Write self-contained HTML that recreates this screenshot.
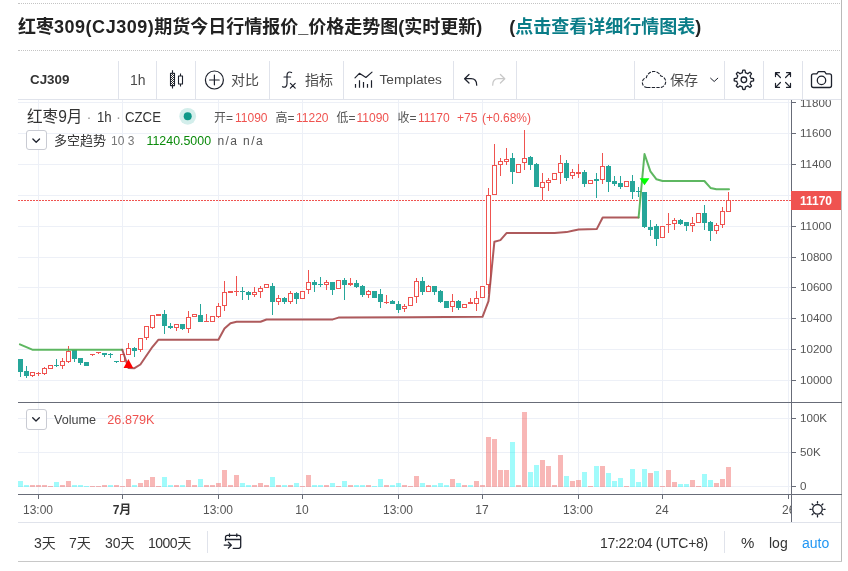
<!DOCTYPE html>
<html lang="zh-CN">
<head>
<meta charset="utf-8">
<title>红枣309(CJ309)期货今日行情报价</title>
<style>
html,body{margin:0;padding:0;background:#fff;}
body{width:848px;height:571px;position:relative;overflow:hidden;font-family:"Liberation Sans","Noto Sans CJK SC",sans-serif;color:#4a4a4a;}
.abs{position:absolute;white-space:nowrap;}
.dot{position:absolute;left:18px;width:824px;height:0;border-top:1px dotted #c4c4c4;}
.title{position:absolute;left:18px;top:13px;font-size:18px;font-weight:bold;color:#222;line-height:28px;white-space:nowrap;letter-spacing:0;}
.title .la{letter-spacing:0.52px;}
.title a{color:#0a7d88;text-decoration:none;}
.title .sp{display:inline-block;width:27px;}
.rline{position:absolute;left:841px;top:0;width:1px;height:562px;background:#b9b9b9;}
.bline{position:absolute;left:18px;top:561px;width:824px;height:1px;background:#c8c8c8;}
.tb{position:absolute;left:18px;top:61px;width:823px;height:38px;border-bottom:1px solid #e0e3eb;}
.sep{position:absolute;top:61px;width:1px;height:38px;background:#e0e3eb;}
.t14{font-size:14px;line-height:20px;top:70px;color:#4a4a4a;}
.cv{position:absolute;left:0;top:0;}
.ico{position:absolute;left:0;top:0;}
.lg{font-size:12px;line-height:16px;color:#555;}
.l1{top:110px;}
.l2{top:133px;}
.sym{top:106px;font-size:15px;line-height:22px;color:#333;}
.sx{transform:scaleX(.88);transform-origin:0 50%;}
.red{color:#ef5350;}
.ax{position:absolute;left:8px;font-size:11.6px;line-height:14px;color:#555;white-space:nowrap;}
.tm{position:absolute;top:503px;font-size:12px;line-height:14px;color:#555;white-space:nowrap;transform:translateX(-50%);}
.btn{position:absolute;left:26px;width:19px;height:19px;border:1px solid #c9cbd3;border-radius:3px;background:#fff;box-sizing:content-box;}
.bt{position:absolute;top:533px;font-size:14px;line-height:20px;color:#333;white-space:nowrap;}
</style>
</head>
<body>
<div class="dot" style="top:3px"></div>
<div class="dot" style="top:50px"></div>
<div class="title">红枣<span class="la">309(CJ309)</span>期货今日行情报价_价格走势图(实时更新)<span class="sp"></span>(<a>点击查看详细行情图表</a>)</div>
<div class="rline"></div>
<div class="bline"></div>
<div class="tb"></div>
<div class="sep" style="left:118px"></div><div class="sep" style="left:156px"></div><div class="sep" style="left:195px"></div><div class="sep" style="left:269px"></div><div class="sep" style="left:343px"></div><div class="sep" style="left:453px"></div><div class="sep" style="left:516px"></div><div class="sep" style="left:634px"></div><div class="sep" style="left:724px"></div><div class="sep" style="left:763px"></div><div class="sep" style="left:802px"></div>
<svg class="cv" width="848" height="571" viewBox="0 0 848 571">
<g shape-rendering="crispEdges" stroke="#edf0f7" stroke-width="1">
<line x1="38.5" y1="100" x2="38.5" y2="494"/>
<line x1="122.5" y1="100" x2="122.5" y2="494"/>
<line x1="218.5" y1="100" x2="218.5" y2="494"/>
<line x1="302.5" y1="100" x2="302.5" y2="494"/>
<line x1="398.5" y1="100" x2="398.5" y2="494"/>
<line x1="482.5" y1="100" x2="482.5" y2="494"/>
<line x1="578.5" y1="100" x2="578.5" y2="494"/>
<line x1="662.5" y1="100" x2="662.5" y2="494"/>
<line x1="788.5" y1="100" x2="788.5" y2="494"/>
<line x1="18" y1="102.5" x2="791" y2="102.5"/>
<line x1="18" y1="133.5" x2="791" y2="133.5"/>
<line x1="18" y1="164.5" x2="791" y2="164.5"/>
<line x1="18" y1="195.5" x2="791" y2="195.5"/>
<line x1="18" y1="226.5" x2="791" y2="226.5"/>
<line x1="18" y1="257.5" x2="791" y2="257.5"/>
<line x1="18" y1="287.5" x2="791" y2="287.5"/>
<line x1="18" y1="318.5" x2="791" y2="318.5"/>
<line x1="18" y1="349.5" x2="791" y2="349.5"/>
<line x1="18" y1="380.5" x2="791" y2="380.5"/>
<line x1="18" y1="418.5" x2="791" y2="418.5"/>
<line x1="18" y1="452.5" x2="791" y2="452.5"/>
<line x1="18" y1="486.5" x2="791" y2="486.5"/>
</g>
<g shape-rendering="crispEdges">
<rect x="18" y="481" width="5" height="6" fill="rgba(0,245,245,0.37)"/>
<rect x="24" y="485" width="5" height="2" fill="rgba(0,245,245,0.37)"/>
<rect x="30" y="485" width="5" height="2" fill="rgba(239,83,80,0.42)"/>
<rect x="36" y="485" width="5" height="2" fill="rgba(239,83,80,0.42)"/>
<rect x="42" y="485" width="5" height="2" fill="rgba(239,83,80,0.42)"/>
<rect x="48" y="486" width="5" height="1" fill="rgba(239,83,80,0.42)"/>
<rect x="54" y="482" width="5" height="5" fill="rgba(0,245,245,0.37)"/>
<rect x="60" y="485" width="5" height="2" fill="rgba(239,83,80,0.42)"/>
<rect x="66" y="481" width="5" height="6" fill="rgba(239,83,80,0.42)"/>
<rect x="72" y="485" width="5" height="2" fill="rgba(0,245,245,0.37)"/>
<rect x="78" y="485" width="5" height="2" fill="rgba(0,245,245,0.37)"/>
<rect x="84" y="486" width="5" height="1" fill="rgba(0,245,245,0.37)"/>
<rect x="90" y="486" width="5" height="1" fill="rgba(239,83,80,0.42)"/>
<rect x="96" y="486" width="5" height="1" fill="rgba(239,83,80,0.42)"/>
<rect x="102" y="485" width="5" height="2" fill="rgba(239,83,80,0.42)"/>
<rect x="108" y="485" width="5" height="2" fill="rgba(0,245,245,0.37)"/>
<rect x="114" y="485" width="5" height="2" fill="rgba(239,83,80,0.42)"/>
<rect x="120" y="486" width="5" height="1" fill="rgba(239,83,80,0.42)"/>
<rect x="126" y="479" width="5" height="8" fill="rgba(239,83,80,0.42)"/>
<rect x="132" y="485" width="5" height="2" fill="rgba(0,245,245,0.37)"/>
<rect x="138" y="483" width="5" height="4" fill="rgba(239,83,80,0.42)"/>
<rect x="144" y="480" width="5" height="7" fill="rgba(239,83,80,0.42)"/>
<rect x="150" y="477" width="5" height="10" fill="rgba(239,83,80,0.42)"/>
<rect x="156" y="486" width="5" height="1" fill="rgba(239,83,80,0.42)"/>
<rect x="162" y="477" width="5" height="10" fill="rgba(0,245,245,0.37)"/>
<rect x="168" y="485" width="5" height="2" fill="rgba(0,245,245,0.37)"/>
<rect x="174" y="485" width="5" height="2" fill="rgba(239,83,80,0.42)"/>
<rect x="180" y="485" width="5" height="2" fill="rgba(0,245,245,0.37)"/>
<rect x="186" y="480" width="5" height="7" fill="rgba(239,83,80,0.42)"/>
<rect x="192" y="485" width="5" height="2" fill="rgba(239,83,80,0.42)"/>
<rect x="198" y="479" width="5" height="8" fill="rgba(0,245,245,0.37)"/>
<rect x="204" y="485" width="5" height="2" fill="rgba(239,83,80,0.42)"/>
<rect x="210" y="485" width="5" height="2" fill="rgba(239,83,80,0.42)"/>
<rect x="216" y="483" width="5" height="4" fill="rgba(239,83,80,0.42)"/>
<rect x="222" y="470" width="5" height="17" fill="rgba(239,83,80,0.42)"/>
<rect x="228" y="485" width="5" height="2" fill="rgba(239,83,80,0.42)"/>
<rect x="234" y="475" width="5" height="12" fill="rgba(239,83,80,0.42)"/>
<rect x="240" y="483" width="5" height="4" fill="rgba(0,245,245,0.37)"/>
<rect x="246" y="485" width="5" height="2" fill="rgba(0,245,245,0.37)"/>
<rect x="252" y="485" width="5" height="2" fill="rgba(239,83,80,0.42)"/>
<rect x="258" y="483" width="5" height="4" fill="rgba(239,83,80,0.42)"/>
<rect x="264" y="485" width="5" height="2" fill="rgba(239,83,80,0.42)"/>
<rect x="270" y="477" width="5" height="10" fill="rgba(0,245,245,0.37)"/>
<rect x="276" y="485" width="5" height="2" fill="rgba(239,83,80,0.42)"/>
<rect x="282" y="485" width="5" height="2" fill="rgba(0,245,245,0.37)"/>
<rect x="288" y="485" width="5" height="2" fill="rgba(239,83,80,0.42)"/>
<rect x="294" y="483" width="5" height="4" fill="rgba(0,245,245,0.37)"/>
<rect x="300" y="486" width="5" height="1" fill="rgba(239,83,80,0.42)"/>
<rect x="306" y="475" width="5" height="12" fill="rgba(239,83,80,0.42)"/>
<rect x="312" y="485" width="5" height="2" fill="rgba(0,245,245,0.37)"/>
<rect x="318" y="485" width="5" height="2" fill="rgba(0,245,245,0.37)"/>
<rect x="324" y="485" width="5" height="2" fill="rgba(239,83,80,0.42)"/>
<rect x="330" y="483" width="5" height="4" fill="rgba(0,245,245,0.37)"/>
<rect x="336" y="486" width="5" height="1" fill="rgba(239,83,80,0.42)"/>
<rect x="342" y="481" width="5" height="6" fill="rgba(0,245,245,0.37)"/>
<rect x="348" y="485" width="5" height="2" fill="rgba(239,83,80,0.42)"/>
<rect x="354" y="485" width="5" height="2" fill="rgba(0,245,245,0.37)"/>
<rect x="360" y="485" width="5" height="2" fill="rgba(0,245,245,0.37)"/>
<rect x="366" y="485" width="5" height="2" fill="rgba(239,83,80,0.42)"/>
<rect x="372" y="486" width="5" height="1" fill="rgba(0,245,245,0.37)"/>
<rect x="378" y="479" width="5" height="8" fill="rgba(0,245,245,0.37)"/>
<rect x="384" y="485" width="5" height="2" fill="rgba(239,83,80,0.42)"/>
<rect x="390" y="485" width="5" height="2" fill="rgba(0,245,245,0.37)"/>
<rect x="396" y="483" width="5" height="4" fill="rgba(0,245,245,0.37)"/>
<rect x="402" y="485" width="5" height="2" fill="rgba(239,83,80,0.42)"/>
<rect x="408" y="486" width="5" height="1" fill="rgba(239,83,80,0.42)"/>
<rect x="414" y="476" width="5" height="11" fill="rgba(239,83,80,0.42)"/>
<rect x="420" y="483" width="5" height="4" fill="rgba(0,245,245,0.37)"/>
<rect x="426" y="485" width="5" height="2" fill="rgba(239,83,80,0.42)"/>
<rect x="432" y="485" width="5" height="2" fill="rgba(0,245,245,0.37)"/>
<rect x="438" y="483" width="5" height="4" fill="rgba(0,245,245,0.37)"/>
<rect x="444" y="485" width="5" height="2" fill="rgba(0,245,245,0.37)"/>
<rect x="450" y="479" width="5" height="8" fill="rgba(239,83,80,0.42)"/>
<rect x="456" y="483" width="5" height="4" fill="rgba(0,245,245,0.37)"/>
<rect x="462" y="485" width="5" height="2" fill="rgba(239,83,80,0.42)"/>
<rect x="468" y="485" width="5" height="2" fill="rgba(0,245,245,0.37)"/>
<rect x="474" y="481" width="5" height="6" fill="rgba(239,83,80,0.42)"/>
<rect x="480" y="485" width="5" height="2" fill="rgba(239,83,80,0.42)"/>
<rect x="486" y="437" width="5" height="50" fill="rgba(239,83,80,0.42)"/>
<rect x="492" y="439" width="5" height="48" fill="rgba(239,83,80,0.42)"/>
<rect x="498" y="470" width="5" height="17" fill="rgba(239,83,80,0.42)"/>
<rect x="504" y="470" width="5" height="17" fill="rgba(239,83,80,0.42)"/>
<rect x="510" y="442" width="5" height="45" fill="rgba(0,245,245,0.37)"/>
<rect x="516" y="485" width="5" height="2" fill="rgba(239,83,80,0.42)"/>
<rect x="522" y="412" width="5" height="75" fill="rgba(239,83,80,0.42)"/>
<rect x="528" y="472" width="5" height="15" fill="rgba(0,245,245,0.37)"/>
<rect x="534" y="465" width="5" height="22" fill="rgba(0,245,245,0.37)"/>
<rect x="540" y="460" width="5" height="27" fill="rgba(239,83,80,0.42)"/>
<rect x="546" y="466" width="5" height="21" fill="rgba(239,83,80,0.42)"/>
<rect x="552" y="485" width="5" height="2" fill="rgba(239,83,80,0.42)"/>
<rect x="558" y="455" width="5" height="32" fill="rgba(239,83,80,0.42)"/>
<rect x="564" y="476" width="5" height="11" fill="rgba(0,245,245,0.37)"/>
<rect x="570" y="481" width="5" height="6" fill="rgba(239,83,80,0.42)"/>
<rect x="576" y="480" width="5" height="7" fill="rgba(239,83,80,0.42)"/>
<rect x="582" y="472" width="5" height="15" fill="rgba(0,245,245,0.37)"/>
<rect x="588" y="486" width="5" height="1" fill="rgba(239,83,80,0.42)"/>
<rect x="594" y="466" width="5" height="21" fill="rgba(0,245,245,0.37)"/>
<rect x="600" y="466" width="5" height="21" fill="rgba(239,83,80,0.42)"/>
<rect x="606" y="473" width="5" height="14" fill="rgba(0,245,245,0.37)"/>
<rect x="612" y="481" width="5" height="6" fill="rgba(0,245,245,0.37)"/>
<rect x="618" y="478" width="5" height="9" fill="rgba(0,245,245,0.37)"/>
<rect x="624" y="486" width="5" height="1" fill="rgba(239,83,80,0.42)"/>
<rect x="630" y="469" width="5" height="18" fill="rgba(0,245,245,0.37)"/>
<rect x="636" y="482" width="5" height="5" fill="rgba(0,245,245,0.37)"/>
<rect x="642" y="469" width="5" height="18" fill="rgba(0,245,245,0.37)"/>
<rect x="648" y="473" width="5" height="14" fill="rgba(239,83,80,0.42)"/>
<rect x="654" y="471" width="5" height="16" fill="rgba(0,245,245,0.37)"/>
<rect x="660" y="486" width="5" height="1" fill="rgba(239,83,80,0.42)"/>
<rect x="666" y="470" width="5" height="17" fill="rgba(239,83,80,0.42)"/>
<rect x="672" y="482" width="5" height="5" fill="rgba(239,83,80,0.42)"/>
<rect x="678" y="484" width="5" height="3" fill="rgba(0,245,245,0.37)"/>
<rect x="684" y="484" width="5" height="3" fill="rgba(0,245,245,0.37)"/>
<rect x="690" y="480" width="5" height="7" fill="rgba(239,83,80,0.42)"/>
<rect x="696" y="486" width="5" height="1" fill="rgba(239,83,80,0.42)"/>
<rect x="702" y="474" width="5" height="13" fill="rgba(0,245,245,0.37)"/>
<rect x="708" y="480" width="5" height="7" fill="rgba(0,245,245,0.37)"/>
<rect x="714" y="483" width="5" height="4" fill="rgba(239,83,80,0.42)"/>
<rect x="720" y="479" width="5" height="8" fill="rgba(239,83,80,0.42)"/>
<rect x="726" y="467" width="5" height="20" fill="rgba(239,83,80,0.42)"/>
</g>
<line x1="18" y1="200.5" x2="791" y2="200.5" stroke="#ef5350" stroke-width="1" stroke-dasharray="2 1" shape-rendering="crispEdges"/>
<g shape-rendering="crispEdges">
<rect x="20" y="359" width="1" height="18" fill="#26a69a"/>
<rect x="18" y="359" width="5" height="13" fill="#26a69a"/>
<rect x="26" y="366" width="1" height="12" fill="#26a69a"/>
<rect x="24" y="371" width="5" height="5" fill="#26a69a"/>
<rect x="32" y="372" width="1" height="5" fill="#ef5350"/>
<rect x="30.5" y="372.5" width="4" height="3" fill="#fff" stroke="#ef5350" stroke-width="1"/>
<rect x="38" y="372" width="1" height="4" fill="#ef5350"/>
<rect x="36" y="373" width="5" height="1" fill="#ef5350"/>
<rect x="44" y="367" width="1" height="8" fill="#ef5350"/>
<rect x="42.5" y="368.5" width="4" height="5" fill="#fff" stroke="#ef5350" stroke-width="1"/>
<rect x="48.5" y="365.5" width="4" height="3" fill="#fff" stroke="#ef5350" stroke-width="1"/>
<rect x="56" y="359" width="1" height="8" fill="#26a69a"/>
<rect x="54" y="365" width="5" height="1" fill="#26a69a"/>
<rect x="62" y="358" width="1" height="11" fill="#ef5350"/>
<rect x="60.5" y="361.5" width="4" height="4" fill="#fff" stroke="#ef5350" stroke-width="1"/>
<rect x="68" y="346" width="1" height="17" fill="#ef5350"/>
<rect x="66.5" y="351.5" width="4" height="10" fill="#fff" stroke="#ef5350" stroke-width="1"/>
<rect x="74" y="350" width="1" height="12" fill="#26a69a"/>
<rect x="72" y="350" width="5" height="9" fill="#26a69a"/>
<rect x="80" y="358" width="1" height="7" fill="#26a69a"/>
<rect x="78" y="358" width="5" height="5" fill="#26a69a"/>
<rect x="84" y="362" width="5" height="4" fill="#26a69a"/>
<rect x="92" y="354" width="1" height="2" fill="#ef5350"/>
<rect x="90" y="354" width="5" height="1" fill="#ef5350"/>
<rect x="98" y="352" width="1" height="2" fill="#ef5350"/>
<rect x="96" y="352" width="5" height="1" fill="#ef5350"/>
<rect x="104" y="353" width="1" height="4" fill="#26a69a"/>
<rect x="102" y="353" width="5" height="2" fill="#26a69a"/>
<rect x="110" y="353" width="1" height="5" fill="#26a69a"/>
<rect x="108" y="354" width="5" height="1" fill="#26a69a"/>
<rect x="116" y="361" width="1" height="2" fill="#26a69a"/>
<rect x="114" y="361" width="5" height="1" fill="#26a69a"/>
<rect x="120.5" y="354.5" width="4" height="7" fill="#fff" stroke="#ef5350" stroke-width="1"/>
<rect x="128" y="343" width="1" height="12" fill="#ef5350"/>
<rect x="126.5" y="348.5" width="4" height="6" fill="#fff" stroke="#ef5350" stroke-width="1"/>
<rect x="134" y="347" width="1" height="10" fill="#26a69a"/>
<rect x="132" y="348" width="5" height="3" fill="#26a69a"/>
<rect x="140" y="338" width="1" height="14" fill="#ef5350"/>
<rect x="138.5" y="338.5" width="4" height="11" fill="#fff" stroke="#ef5350" stroke-width="1"/>
<rect x="146" y="326" width="1" height="14" fill="#ef5350"/>
<rect x="144.5" y="326.5" width="4" height="11" fill="#fff" stroke="#ef5350" stroke-width="1"/>
<rect x="152" y="315" width="1" height="14" fill="#ef5350"/>
<rect x="150.5" y="315.5" width="4" height="12" fill="#fff" stroke="#ef5350" stroke-width="1"/>
<rect x="156" y="314" width="5" height="2" fill="#ef5350"/>
<rect x="164" y="310" width="1" height="24" fill="#26a69a"/>
<rect x="162" y="314" width="5" height="12" fill="#26a69a"/>
<rect x="170" y="323" width="1" height="6" fill="#26a69a"/>
<rect x="168" y="326" width="5" height="2" fill="#26a69a"/>
<rect x="176" y="324" width="1" height="7" fill="#ef5350"/>
<rect x="174.5" y="324.5" width="4" height="3" fill="#fff" stroke="#ef5350" stroke-width="1"/>
<rect x="182" y="324" width="1" height="6" fill="#26a69a"/>
<rect x="180" y="324" width="5" height="5" fill="#26a69a"/>
<rect x="188" y="311" width="1" height="22" fill="#ef5350"/>
<rect x="186.5" y="317.5" width="4" height="11" fill="#fff" stroke="#ef5350" stroke-width="1"/>
<rect x="192.5" y="314.5" width="4" height="2" fill="#fff" stroke="#ef5350" stroke-width="1"/>
<rect x="200" y="304" width="1" height="18" fill="#26a69a"/>
<rect x="198" y="315" width="5" height="7" fill="#26a69a"/>
<rect x="206" y="314" width="1" height="8" fill="#ef5350"/>
<rect x="204" y="321" width="5" height="1" fill="#ef5350"/>
<rect x="210.5" y="316.5" width="4" height="5" fill="#fff" stroke="#ef5350" stroke-width="1"/>
<rect x="218" y="303" width="1" height="15" fill="#ef5350"/>
<rect x="216.5" y="306.5" width="4" height="10" fill="#fff" stroke="#ef5350" stroke-width="1"/>
<rect x="224" y="281" width="1" height="30" fill="#ef5350"/>
<rect x="222.5" y="292.5" width="4" height="13" fill="#fff" stroke="#ef5350" stroke-width="1"/>
<rect x="228" y="291" width="5" height="2" fill="#ef5350"/>
<rect x="236" y="276" width="1" height="20" fill="#ef5350"/>
<rect x="234" y="291" width="5" height="1" fill="#ef5350"/>
<rect x="242" y="287" width="1" height="13" fill="#26a69a"/>
<rect x="240" y="291" width="5" height="1" fill="#26a69a"/>
<rect x="248" y="291" width="1" height="9" fill="#26a69a"/>
<rect x="246" y="292" width="5" height="3" fill="#26a69a"/>
<rect x="254" y="287" width="1" height="10" fill="#ef5350"/>
<rect x="252.5" y="292.5" width="4" height="2" fill="#fff" stroke="#ef5350" stroke-width="1"/>
<rect x="260" y="286" width="1" height="12" fill="#ef5350"/>
<rect x="258.5" y="288.5" width="4" height="3" fill="#fff" stroke="#ef5350" stroke-width="1"/>
<rect x="264.5" y="284.5" width="4" height="3" fill="#fff" stroke="#ef5350" stroke-width="1"/>
<rect x="272" y="283" width="1" height="32" fill="#26a69a"/>
<rect x="270" y="286" width="5" height="16" fill="#26a69a"/>
<rect x="278" y="295" width="1" height="10" fill="#ef5350"/>
<rect x="276.5" y="298.5" width="4" height="3" fill="#fff" stroke="#ef5350" stroke-width="1"/>
<rect x="284" y="297" width="1" height="7" fill="#26a69a"/>
<rect x="282" y="298" width="5" height="4" fill="#26a69a"/>
<rect x="290" y="291" width="1" height="13" fill="#ef5350"/>
<rect x="288.5" y="293.5" width="4" height="8" fill="#fff" stroke="#ef5350" stroke-width="1"/>
<rect x="296" y="292" width="1" height="12" fill="#26a69a"/>
<rect x="294" y="293" width="5" height="6" fill="#26a69a"/>
<rect x="300.5" y="291.5" width="4" height="7" fill="#fff" stroke="#ef5350" stroke-width="1"/>
<rect x="308" y="270" width="1" height="24" fill="#ef5350"/>
<rect x="306.5" y="282.5" width="4" height="7" fill="#fff" stroke="#ef5350" stroke-width="1"/>
<rect x="314" y="280" width="1" height="12" fill="#26a69a"/>
<rect x="312" y="282" width="5" height="3" fill="#26a69a"/>
<rect x="320" y="277" width="1" height="10" fill="#26a69a"/>
<rect x="318" y="284" width="5" height="1" fill="#26a69a"/>
<rect x="326" y="280" width="1" height="10" fill="#ef5350"/>
<rect x="324.5" y="282.5" width="4" height="2" fill="#fff" stroke="#ef5350" stroke-width="1"/>
<rect x="332" y="282" width="1" height="13" fill="#26a69a"/>
<rect x="330" y="282" width="5" height="8" fill="#26a69a"/>
<rect x="336.5" y="280.5" width="4" height="8" fill="#fff" stroke="#ef5350" stroke-width="1"/>
<rect x="344" y="278" width="1" height="22" fill="#26a69a"/>
<rect x="342" y="280" width="5" height="5" fill="#26a69a"/>
<rect x="350" y="278" width="1" height="8" fill="#ef5350"/>
<rect x="348" y="283" width="5" height="2" fill="#ef5350"/>
<rect x="356" y="280" width="1" height="8" fill="#26a69a"/>
<rect x="354" y="283" width="5" height="4" fill="#26a69a"/>
<rect x="362" y="285" width="1" height="12" fill="#26a69a"/>
<rect x="360" y="286" width="5" height="9" fill="#26a69a"/>
<rect x="368" y="290" width="1" height="8" fill="#ef5350"/>
<rect x="366.5" y="291.5" width="4" height="3" fill="#fff" stroke="#ef5350" stroke-width="1"/>
<rect x="372" y="291" width="5" height="7" fill="#26a69a"/>
<rect x="380" y="289" width="1" height="19" fill="#26a69a"/>
<rect x="378" y="294" width="5" height="8" fill="#26a69a"/>
<rect x="386" y="295" width="1" height="9" fill="#ef5350"/>
<rect x="384" y="302" width="5" height="1" fill="#ef5350"/>
<rect x="392" y="300" width="1" height="4" fill="#26a69a"/>
<rect x="390" y="301" width="5" height="3" fill="#26a69a"/>
<rect x="398" y="301" width="1" height="12" fill="#26a69a"/>
<rect x="396" y="304" width="5" height="6" fill="#26a69a"/>
<rect x="404" y="304" width="1" height="8" fill="#ef5350"/>
<rect x="402.5" y="306.5" width="4" height="2" fill="#fff" stroke="#ef5350" stroke-width="1"/>
<rect x="408.5" y="297.5" width="4" height="8" fill="#fff" stroke="#ef5350" stroke-width="1"/>
<rect x="416" y="278" width="1" height="25" fill="#ef5350"/>
<rect x="414.5" y="281.5" width="4" height="15" fill="#fff" stroke="#ef5350" stroke-width="1"/>
<rect x="422" y="277" width="1" height="18" fill="#26a69a"/>
<rect x="420" y="281" width="5" height="11" fill="#26a69a"/>
<rect x="428" y="285" width="1" height="7" fill="#ef5350"/>
<rect x="426.5" y="286.5" width="4" height="5" fill="#fff" stroke="#ef5350" stroke-width="1"/>
<rect x="434" y="286" width="1" height="9" fill="#26a69a"/>
<rect x="432" y="286" width="5" height="6" fill="#26a69a"/>
<rect x="440" y="290" width="1" height="13" fill="#26a69a"/>
<rect x="438" y="291" width="5" height="11" fill="#26a69a"/>
<rect x="444" y="301" width="5" height="7" fill="#26a69a"/>
<rect x="452" y="294" width="1" height="18" fill="#ef5350"/>
<rect x="450.5" y="301.5" width="4" height="5" fill="#fff" stroke="#ef5350" stroke-width="1"/>
<rect x="458" y="300" width="1" height="10" fill="#26a69a"/>
<rect x="456" y="301" width="5" height="7" fill="#26a69a"/>
<rect x="462.5" y="304.5" width="4" height="3" fill="#fff" stroke="#ef5350" stroke-width="1"/>
<rect x="470" y="298" width="1" height="6" fill="#ef5350"/>
<rect x="468" y="302" width="5" height="2" fill="#ef5350"/>
<rect x="476" y="291" width="1" height="20" fill="#ef5350"/>
<rect x="474.5" y="298.5" width="4" height="5" fill="#fff" stroke="#ef5350" stroke-width="1"/>
<rect x="480.5" y="286.5" width="4" height="11" fill="#fff" stroke="#ef5350" stroke-width="1"/>
<rect x="488" y="188" width="1" height="106" fill="#ef5350"/>
<rect x="486.5" y="195.5" width="4" height="89" fill="#fff" stroke="#ef5350" stroke-width="1"/>
<rect x="494" y="144" width="1" height="51" fill="#ef5350"/>
<rect x="492.5" y="165.5" width="4" height="29" fill="#fff" stroke="#ef5350" stroke-width="1"/>
<rect x="500" y="158" width="1" height="18" fill="#ef5350"/>
<rect x="498.5" y="161.5" width="4" height="3" fill="#fff" stroke="#ef5350" stroke-width="1"/>
<rect x="506" y="148" width="1" height="17" fill="#ef5350"/>
<rect x="504.5" y="159.5" width="4" height="2" fill="#fff" stroke="#ef5350" stroke-width="1"/>
<rect x="512" y="153" width="1" height="31" fill="#26a69a"/>
<rect x="510" y="158" width="5" height="14" fill="#26a69a"/>
<rect x="516.5" y="164.5" width="4" height="8" fill="#fff" stroke="#ef5350" stroke-width="1"/>
<rect x="524" y="130" width="1" height="40" fill="#ef5350"/>
<rect x="522.5" y="158.5" width="4" height="4" fill="#fff" stroke="#ef5350" stroke-width="1"/>
<rect x="530" y="156" width="1" height="14" fill="#26a69a"/>
<rect x="528" y="157" width="5" height="8" fill="#26a69a"/>
<rect x="536" y="163" width="1" height="24" fill="#26a69a"/>
<rect x="534" y="164" width="5" height="23" fill="#26a69a"/>
<rect x="542" y="173" width="1" height="27" fill="#ef5350"/>
<rect x="540.5" y="182.5" width="4" height="5" fill="#fff" stroke="#ef5350" stroke-width="1"/>
<rect x="548" y="178" width="1" height="13" fill="#ef5350"/>
<rect x="546.5" y="180.5" width="4" height="2" fill="#fff" stroke="#ef5350" stroke-width="1"/>
<rect x="552.5" y="173.5" width="4" height="6" fill="#fff" stroke="#ef5350" stroke-width="1"/>
<rect x="560" y="155" width="1" height="29" fill="#ef5350"/>
<rect x="558.5" y="163.5" width="4" height="9" fill="#fff" stroke="#ef5350" stroke-width="1"/>
<rect x="566" y="160" width="1" height="21" fill="#26a69a"/>
<rect x="564" y="163" width="5" height="15" fill="#26a69a"/>
<rect x="572" y="169" width="1" height="10" fill="#ef5350"/>
<rect x="570.5" y="172.5" width="4" height="3" fill="#fff" stroke="#ef5350" stroke-width="1"/>
<rect x="578" y="164" width="1" height="14" fill="#ef5350"/>
<rect x="576" y="172" width="5" height="2" fill="#ef5350"/>
<rect x="584" y="170" width="1" height="17" fill="#26a69a"/>
<rect x="582" y="172" width="5" height="12" fill="#26a69a"/>
<rect x="588.5" y="180.5" width="4" height="3" fill="#fff" stroke="#ef5350" stroke-width="1"/>
<rect x="596" y="173" width="1" height="25" fill="#26a69a"/>
<rect x="594" y="179" width="5" height="2" fill="#26a69a"/>
<rect x="602" y="153" width="1" height="31" fill="#ef5350"/>
<rect x="600.5" y="166.5" width="4" height="13" fill="#fff" stroke="#ef5350" stroke-width="1"/>
<rect x="608" y="165" width="1" height="27" fill="#26a69a"/>
<rect x="606" y="166" width="5" height="16" fill="#26a69a"/>
<rect x="614" y="176" width="1" height="10" fill="#26a69a"/>
<rect x="612" y="181" width="5" height="3" fill="#26a69a"/>
<rect x="620" y="176" width="1" height="13" fill="#26a69a"/>
<rect x="618" y="183" width="5" height="4" fill="#26a69a"/>
<rect x="624.5" y="181.5" width="4" height="5" fill="#fff" stroke="#ef5350" stroke-width="1"/>
<rect x="632" y="175" width="1" height="24" fill="#26a69a"/>
<rect x="630" y="181" width="5" height="11" fill="#26a69a"/>
<rect x="638" y="187" width="1" height="10" fill="#26a69a"/>
<rect x="636" y="191" width="5" height="1" fill="#26a69a"/>
<rect x="644" y="192" width="1" height="36" fill="#26a69a"/>
<rect x="642" y="192" width="5" height="35" fill="#26a69a"/>
<rect x="650" y="220" width="1" height="16" fill="#26a69a"/>
<rect x="648" y="227" width="5" height="3" fill="#26a69a"/>
<rect x="656" y="224" width="1" height="22" fill="#26a69a"/>
<rect x="654" y="226" width="5" height="13" fill="#26a69a"/>
<rect x="660.5" y="226.5" width="4" height="11" fill="#fff" stroke="#ef5350" stroke-width="1"/>
<rect x="668" y="213" width="1" height="20" fill="#ef5350"/>
<rect x="666" y="224" width="5" height="1" fill="#ef5350"/>
<rect x="674" y="218" width="1" height="12" fill="#ef5350"/>
<rect x="672.5" y="220.5" width="4" height="3" fill="#fff" stroke="#ef5350" stroke-width="1"/>
<rect x="680" y="219" width="1" height="6" fill="#26a69a"/>
<rect x="678" y="220" width="5" height="4" fill="#26a69a"/>
<rect x="686" y="222" width="1" height="9" fill="#26a69a"/>
<rect x="684" y="222" width="5" height="4" fill="#26a69a"/>
<rect x="692" y="217" width="1" height="15" fill="#ef5350"/>
<rect x="690.5" y="223.5" width="4" height="2" fill="#fff" stroke="#ef5350" stroke-width="1"/>
<rect x="696.5" y="213.5" width="4" height="9" fill="#fff" stroke="#ef5350" stroke-width="1"/>
<rect x="704" y="205" width="1" height="25" fill="#26a69a"/>
<rect x="702" y="213" width="5" height="10" fill="#26a69a"/>
<rect x="710" y="221" width="1" height="20" fill="#26a69a"/>
<rect x="708" y="222" width="5" height="9" fill="#26a69a"/>
<rect x="716" y="223" width="1" height="11" fill="#ef5350"/>
<rect x="714.5" y="225.5" width="4" height="5" fill="#fff" stroke="#ef5350" stroke-width="1"/>
<rect x="722" y="207" width="1" height="21" fill="#ef5350"/>
<rect x="720.5" y="211.5" width="4" height="13" fill="#fff" stroke="#ef5350" stroke-width="1"/>
<rect x="728" y="192" width="1" height="20" fill="#ef5350"/>
<rect x="726.5" y="200.5" width="4" height="11" fill="#fff" stroke="#ef5350" stroke-width="1"/>
</g>
<polyline points="19.9,344.3 32.3,349.7 122.3,349.7" fill="none" stroke="#4caf50" stroke-width="2.0" stroke-linejoin="round" stroke-linecap="round" opacity="0.9"/>
<polyline points="122.3,349.7 128.4,367.9 134.5,368.2 140.4,364.5 146.5,355.5 152.5,346.8 158.5,339.7 218.4,339.7 224.5,328.6 230.5,323.2 236.6,321.8 260.5,321.8 266.5,319.5 332.8,319.4 338.5,317.6 410,317.3 482.5,316.8 488.5,301.1 494.4,241.7 500.4,240.1 506.5,233.1 554.6,233.1 560.6,232.5 566.6,232.1 572.6,230.7 578.6,229.5 596.7,229.1 602.7,217.5 638.6,217.5" fill="none" stroke="#a5484a" stroke-width="2.0" stroke-linejoin="round" stroke-linecap="round" opacity="0.9"/>
<polyline points="638.6,217.5 644.5,154 650.4,171.4 656.5,179.3 662.5,181 704.4,181 710.5,187.9 716.4,189.2 729,189.2" fill="none" stroke="#4caf50" stroke-width="2.0" stroke-linejoin="round" stroke-linecap="round" opacity="0.9"/>
<polygon points="128.4,359 133.2,368 123.6,368" fill="#ff0000"/>
<polygon points="639.6,178.2 649.4,178.2 644.5,185.2" fill="#00ff00"/>
<g shape-rendering="crispEdges" fill="#686c78">
<rect x="18" y="402" width="824" height="1"/>
<rect x="18" y="494" width="824" height="1"/>
<rect x="791" y="100" width="1" height="422"/>
<rect x="792" y="102" width="4" height="1"/>
<rect x="792" y="133" width="4" height="1"/>
<rect x="792" y="164" width="4" height="1"/>
<rect x="792" y="195" width="4" height="1"/>
<rect x="792" y="226" width="4" height="1"/>
<rect x="792" y="257" width="4" height="1"/>
<rect x="792" y="287" width="4" height="1"/>
<rect x="792" y="318" width="4" height="1"/>
<rect x="792" y="349" width="4" height="1"/>
<rect x="792" y="380" width="4" height="1"/>
<rect x="792" y="418" width="4" height="1"/>
<rect x="792" y="452" width="4" height="1"/>
<rect x="792" y="486" width="4" height="1"/>
<rect x="38" y="495" width="1" height="4"/>
<rect x="122" y="495" width="1" height="4"/>
<rect x="218" y="495" width="1" height="4"/>
<rect x="302" y="495" width="1" height="4"/>
<rect x="398" y="495" width="1" height="4"/>
<rect x="482" y="495" width="1" height="4"/>
<rect x="578" y="495" width="1" height="4"/>
<rect x="662" y="495" width="1" height="4"/>
<rect x="788" y="495" width="1" height="4"/>
</g>
<rect x="791" y="191" width="50" height="19" fill="#ef5350" shape-rendering="crispEdges"/>
</svg>
<div class="btn" style="top:130px;height:18px"></div>
<div class="btn" style="top:409px"></div>
<svg class="ico" width="848" height="571" viewBox="0 0 848 571" fill="none" stroke="#1e222d" stroke-width="1.2" stroke-linecap="round" stroke-linejoin="round">
<defs><pattern id="hat" width="2" height="2" patternUnits="userSpaceOnUse"><rect width="1" height="1" fill="#333" stroke="none"/><rect x="1" y="1" width="1" height="1" fill="#333" stroke="none"/></pattern></defs>
<g stroke-linecap="butt" stroke-width="1.1"><path d="M172.5 70.2V73.2M172.5 85.6V88.4M180.5 73.5V76M180.5 84V86.4"/>
<rect x="170.5" y="73.2" width="4" height="12.4" fill="url(#hat)"/><rect x="178.5" y="76" width="4" height="8"/></g>
<circle cx="214.4" cy="80" r="9"/><path d="M209.6 80H219.2M214.4 75.2V84.8"/>
<path d="M291.6 72.5C289.6 71.5 287 72 287 75.4L287 83.6C287 87 284.6 87.9 282.5 86.7M284 77H290.6M290.4 83.4L295.2 88.2M295.2 83.4L290.4 88.2"/>
<path d="M355 77.8L359.4 73.3L365.9 77.5L372 72.1"/>
<path stroke-linecap="butt" d="M355.5 84.1V87.8M359.5 80.2V87.8M363.5 82.1V87.8M367.5 84.1V87.8M371.5 80.2V87.8"/>
<path stroke-width="1.25" d="M469 74.5L464.6 78.7L469 83M464.8 78.7H471C474.6 78.7 476.7 81 476.7 85.2"/>
<path stroke="#c8c8c8" stroke-width="1.25" d="M500.4 74.5L504.8 78.7L500.4 83M504.6 78.7H498.4C494.8 78.7 492.7 81 492.7 85.2"/>
<path stroke-dasharray="2.5 2.1" stroke-width="1.1" d="M647 87.5a5 5 0 0 1-.6-9.9a7.6 7.6 0 0 1 14.4-1.6a5.8 5.8 0 0 1-.3 11.5z"/>
<path stroke-width="1" d="M710.6 78.2L714.2 81.5L717.8 78.2"/>
<path stroke-width="1.3" d="M753.60 79.80L753.60 79.88L753.60 79.97L753.60 80.05L753.59 80.14L753.59 80.22L753.59 80.31L753.58 80.39L753.58 80.48L753.57 80.56L753.56 80.65L753.56 80.73L753.55 80.81L753.48 80.89L753.28 80.95L753.08 81.01L752.87 81.06L752.66 81.11L752.44 81.15L752.21 81.19L751.98 81.22L751.74 81.25L751.51 81.28L751.27 81.30L751.04 81.32L750.93 81.36L750.92 81.42L750.90 81.48L750.89 81.54L750.87 81.60L750.85 81.66L750.84 81.72L750.82 81.78L750.80 81.84L750.79 81.91L750.77 81.97L750.75 82.02L750.73 82.08L750.71 82.14L750.69 82.20L750.67 82.26L750.64 82.32L750.62 82.38L750.60 82.44L750.58 82.50L750.55 82.56L750.53 82.61L750.50 82.67L750.48 82.73L750.45 82.79L750.43 82.84L750.40 82.90L750.37 82.96L750.34 83.01L750.32 83.07L750.29 83.12L750.26 83.18L750.23 83.24L750.20 83.29L750.17 83.35L750.14 83.40L750.10 83.45L750.07 83.51L750.04 83.56L750.01 83.62L749.97 83.67L750.02 83.77L750.17 83.95L750.33 84.13L750.47 84.32L750.62 84.50L750.76 84.69L750.89 84.88L751.02 85.07L751.14 85.25L751.25 85.44L751.35 85.62L751.44 85.80L751.44 85.90L751.38 85.97L751.33 86.04L751.28 86.10L751.22 86.16L751.16 86.23L751.11 86.29L751.05 86.35L750.99 86.42L750.94 86.48L750.88 86.54L750.82 86.60L750.76 86.66L750.70 86.72L750.64 86.78L750.58 86.84L750.52 86.89L750.45 86.95L750.39 87.01L750.33 87.06L750.26 87.12L750.20 87.18L750.14 87.23L750.07 87.28L750.00 87.34L749.90 87.34L749.72 87.25L749.54 87.15L749.35 87.04L749.17 86.92L748.98 86.79L748.79 86.66L748.60 86.52L748.42 86.37L748.23 86.23L748.05 86.07L747.87 85.92L747.77 85.87L747.72 85.91L747.66 85.94L747.61 85.97L747.55 86.00L747.50 86.04L747.45 86.07L747.39 86.10L747.34 86.13L747.28 86.16L747.22 86.19L747.17 86.22L747.11 86.24L747.06 86.27L747.00 86.30L746.94 86.33L746.89 86.35L746.83 86.38L746.77 86.40L746.71 86.43L746.66 86.45L746.60 86.48L746.54 86.50L746.48 86.52L746.42 86.54L746.36 86.57L746.30 86.59L746.24 86.61L746.18 86.63L746.12 86.65L746.07 86.67L746.01 86.69L745.94 86.70L745.88 86.72L745.82 86.74L745.76 86.75L745.70 86.77L745.64 86.79L745.58 86.80L745.52 86.82L745.46 86.83L745.42 86.94L745.40 87.17L745.38 87.41L745.35 87.64L745.32 87.88L745.29 88.11L745.25 88.34L745.21 88.56L745.16 88.77L745.11 88.98L745.05 89.18L744.99 89.38L744.91 89.45L744.83 89.46L744.75 89.46L744.66 89.47L744.58 89.48L744.49 89.48L744.41 89.49L744.32 89.49L744.24 89.49L744.15 89.50L744.07 89.50L743.98 89.50L743.90 89.50L743.82 89.50L743.73 89.50L743.65 89.50L743.56 89.49L743.48 89.49L743.39 89.49L743.31 89.48L743.22 89.48L743.14 89.47L743.05 89.46L742.97 89.46L742.89 89.45L742.81 89.38L742.75 89.18L742.69 88.98L742.64 88.77L742.59 88.56L742.55 88.34L742.51 88.11L742.48 87.88L742.45 87.64L742.42 87.41L742.40 87.17L742.38 86.94L742.34 86.83L742.28 86.82L742.22 86.80L742.16 86.79L742.10 86.77L742.04 86.75L741.98 86.74L741.92 86.72L741.86 86.70L741.79 86.69L741.73 86.67L741.68 86.65L741.62 86.63L741.56 86.61L741.50 86.59L741.44 86.57L741.38 86.54L741.32 86.52L741.26 86.50L741.20 86.48L741.14 86.45L741.09 86.43L741.03 86.40L740.97 86.38L740.91 86.35L740.86 86.33L740.80 86.30L740.74 86.27L740.69 86.24L740.63 86.22L740.58 86.19L740.52 86.16L740.46 86.13L740.41 86.10L740.35 86.07L740.30 86.04L740.25 86.00L740.19 85.97L740.14 85.94L740.08 85.91L740.03 85.87L739.93 85.92L739.75 86.07L739.57 86.23L739.38 86.37L739.20 86.52L739.01 86.66L738.82 86.79L738.63 86.92L738.45 87.04L738.26 87.15L738.08 87.25L737.90 87.34L737.80 87.34L737.73 87.28L737.66 87.23L737.60 87.18L737.54 87.12L737.47 87.06L737.41 87.01L737.35 86.95L737.28 86.89L737.22 86.84L737.16 86.78L737.10 86.72L737.04 86.66L736.98 86.60L736.92 86.54L736.86 86.48L736.81 86.42L736.75 86.35L736.69 86.29L736.64 86.23L736.58 86.16L736.52 86.10L736.47 86.04L736.42 85.97L736.36 85.90L736.36 85.80L736.45 85.62L736.55 85.44L736.66 85.25L736.78 85.07L736.91 84.88L737.04 84.69L737.18 84.50L737.33 84.32L737.47 84.13L737.63 83.95L737.78 83.77L737.83 83.67L737.79 83.62L737.76 83.56L737.73 83.51L737.70 83.45L737.66 83.40L737.63 83.35L737.60 83.29L737.57 83.24L737.54 83.18L737.51 83.12L737.48 83.07L737.46 83.01L737.43 82.96L737.40 82.90L737.37 82.84L737.35 82.79L737.32 82.73L737.30 82.67L737.27 82.61L737.25 82.56L737.22 82.50L737.20 82.44L737.18 82.38L737.16 82.32L737.13 82.26L737.11 82.20L737.09 82.14L737.07 82.08L737.05 82.02L737.03 81.97L737.01 81.91L737.00 81.84L736.98 81.78L736.96 81.72L736.95 81.66L736.93 81.60L736.91 81.54L736.90 81.48L736.88 81.42L736.87 81.36L736.76 81.32L736.53 81.30L736.29 81.28L736.06 81.25L735.82 81.22L735.59 81.19L735.36 81.15L735.14 81.11L734.93 81.06L734.72 81.01L734.52 80.95L734.32 80.89L734.25 80.81L734.24 80.73L734.24 80.65L734.23 80.56L734.22 80.48L734.22 80.39L734.21 80.31L734.21 80.22L734.21 80.14L734.20 80.05L734.20 79.97L734.20 79.88L734.20 79.80L734.20 79.72L734.20 79.63L734.20 79.55L734.21 79.46L734.21 79.38L734.21 79.29L734.22 79.21L734.22 79.12L734.23 79.04L734.24 78.95L734.24 78.87L734.25 78.79L734.32 78.71L734.52 78.65L734.72 78.59L734.93 78.54L735.14 78.49L735.36 78.45L735.59 78.41L735.82 78.38L736.06 78.35L736.29 78.32L736.53 78.30L736.76 78.28L736.87 78.24L736.88 78.18L736.90 78.12L736.91 78.06L736.93 78.00L736.95 77.94L736.96 77.88L736.98 77.82L737.00 77.76L737.01 77.69L737.03 77.63L737.05 77.58L737.07 77.52L737.09 77.46L737.11 77.40L737.13 77.34L737.16 77.28L737.18 77.22L737.20 77.16L737.22 77.10L737.25 77.04L737.27 76.99L737.30 76.93L737.32 76.87L737.35 76.81L737.37 76.76L737.40 76.70L737.43 76.64L737.46 76.59L737.48 76.53L737.51 76.48L737.54 76.42L737.57 76.36L737.60 76.31L737.63 76.25L737.66 76.20L737.70 76.15L737.73 76.09L737.76 76.04L737.79 75.98L737.83 75.93L737.78 75.83L737.63 75.65L737.47 75.47L737.33 75.28L737.18 75.10L737.04 74.91L736.91 74.72L736.78 74.53L736.66 74.35L736.55 74.16L736.45 73.98L736.36 73.80L736.36 73.70L736.42 73.63L736.47 73.56L736.52 73.50L736.58 73.44L736.64 73.37L736.69 73.31L736.75 73.25L736.81 73.18L736.86 73.12L736.92 73.06L736.98 73.00L737.04 72.94L737.10 72.88L737.16 72.82L737.22 72.76L737.28 72.71L737.35 72.65L737.41 72.59L737.47 72.54L737.54 72.48L737.60 72.42L737.66 72.37L737.73 72.32L737.80 72.26L737.90 72.26L738.08 72.35L738.26 72.45L738.45 72.56L738.63 72.68L738.82 72.81L739.01 72.94L739.20 73.08L739.38 73.23L739.57 73.37L739.75 73.53L739.93 73.68L740.03 73.73L740.08 73.69L740.14 73.66L740.19 73.63L740.25 73.60L740.30 73.56L740.35 73.53L740.41 73.50L740.46 73.47L740.52 73.44L740.58 73.41L740.63 73.38L740.69 73.36L740.74 73.33L740.80 73.30L740.86 73.27L740.91 73.25L740.97 73.22L741.03 73.20L741.09 73.17L741.14 73.15L741.20 73.12L741.26 73.10L741.32 73.08L741.38 73.06L741.44 73.03L741.50 73.01L741.56 72.99L741.62 72.97L741.68 72.95L741.73 72.93L741.79 72.91L741.86 72.90L741.92 72.88L741.98 72.86L742.04 72.85L742.10 72.83L742.16 72.81L742.22 72.80L742.28 72.78L742.34 72.77L742.38 72.66L742.40 72.43L742.42 72.19L742.45 71.96L742.48 71.72L742.51 71.49L742.55 71.26L742.59 71.04L742.64 70.83L742.69 70.62L742.75 70.42L742.81 70.22L742.89 70.15L742.97 70.14L743.05 70.14L743.14 70.13L743.22 70.12L743.31 70.12L743.39 70.11L743.48 70.11L743.56 70.11L743.65 70.10L743.73 70.10L743.82 70.10L743.90 70.10L743.98 70.10L744.07 70.10L744.15 70.10L744.24 70.11L744.32 70.11L744.41 70.11L744.49 70.12L744.58 70.12L744.66 70.13L744.75 70.14L744.83 70.14L744.91 70.15L744.99 70.22L745.05 70.42L745.11 70.62L745.16 70.83L745.21 71.04L745.25 71.26L745.29 71.49L745.32 71.72L745.35 71.96L745.38 72.19L745.40 72.43L745.42 72.66L745.46 72.77L745.52 72.78L745.58 72.80L745.64 72.81L745.70 72.83L745.76 72.85L745.82 72.86L745.88 72.88L745.94 72.90L746.01 72.91L746.07 72.93L746.12 72.95L746.18 72.97L746.24 72.99L746.30 73.01L746.36 73.03L746.42 73.06L746.48 73.08L746.54 73.10L746.60 73.12L746.66 73.15L746.71 73.17L746.77 73.20L746.83 73.22L746.89 73.25L746.94 73.27L747.00 73.30L747.06 73.33L747.11 73.36L747.17 73.38L747.22 73.41L747.28 73.44L747.34 73.47L747.39 73.50L747.45 73.53L747.50 73.56L747.55 73.60L747.61 73.63L747.66 73.66L747.72 73.69L747.77 73.73L747.87 73.68L748.05 73.53L748.23 73.37L748.42 73.23L748.60 73.08L748.79 72.94L748.98 72.81L749.17 72.68L749.35 72.56L749.54 72.45L749.72 72.35L749.90 72.26L750.00 72.26L750.07 72.32L750.14 72.37L750.20 72.42L750.26 72.48L750.33 72.54L750.39 72.59L750.45 72.65L750.52 72.71L750.58 72.76L750.64 72.82L750.70 72.88L750.76 72.94L750.82 73.00L750.88 73.06L750.94 73.12L750.99 73.18L751.05 73.25L751.11 73.31L751.16 73.37L751.22 73.44L751.28 73.50L751.33 73.56L751.38 73.63L751.44 73.70L751.44 73.80L751.35 73.98L751.25 74.16L751.14 74.35L751.02 74.53L750.89 74.72L750.76 74.91L750.62 75.10L750.47 75.28L750.33 75.47L750.17 75.65L750.02 75.83L749.97 75.93L750.01 75.98L750.04 76.04L750.07 76.09L750.10 76.15L750.14 76.20L750.17 76.25L750.20 76.31L750.23 76.36L750.26 76.42L750.29 76.48L750.32 76.53L750.34 76.59L750.37 76.64L750.40 76.70L750.43 76.76L750.45 76.81L750.48 76.87L750.50 76.93L750.53 76.99L750.55 77.04L750.58 77.10L750.60 77.16L750.62 77.22L750.64 77.28L750.67 77.34L750.69 77.40L750.71 77.46L750.73 77.52L750.75 77.58L750.77 77.63L750.79 77.69L750.80 77.76L750.82 77.82L750.84 77.88L750.85 77.94L750.87 78.00L750.89 78.06L750.90 78.12L750.92 78.18L750.93 78.24L751.04 78.28L751.27 78.30L751.51 78.32L751.74 78.35L751.98 78.38L752.21 78.41L752.44 78.45L752.66 78.49L752.87 78.54L753.08 78.59L753.28 78.65L753.48 78.71L753.55 78.79L753.56 78.87L753.56 78.95L753.57 79.04L753.58 79.12L753.58 79.21L753.59 79.29L753.59 79.38L753.59 79.46L753.60 79.55L753.60 79.63L753.60 79.72z"/>
<circle cx="743.9" cy="79.8" r="2.8" stroke-width="1.3"/>
<path d="M775.5 76.6V72.6H779.5M775.5 72.6L780.4 77.5M786.5 72.6H790.5V76.6M790.5 72.6L785.6 77.5M775.5 83.4V87.4H779.5M775.5 87.4L780.4 82.5M790.5 83.4V87.4H786.5M790.5 87.4L785.6 82.5"/>
<path stroke-width="1.3" d="M813.5 73.8H816.8L818.4 71.6H824.6L826.2 73.8H829.5a2 2 0 0 1 2 2V85.5a2 2 0 0 1-2 2H813.5a2 2 0 0 1-2-2V75.8a2 2 0 0 1 2-2z"/><circle cx="821.5" cy="80.4" r="4.2" stroke-width="1.3"/>
<circle cx="187.7" cy="116.3" r="8.4" fill="#d3eeeb" stroke="none"/><circle cx="187.7" cy="116.3" r="4" fill="#0f9888" stroke="none"/>
<path stroke-width="1.3" d="M32.9 139L36.2 142.3L39.5 139M32.7 417.7L36 421L39.3 417.7"/>
<path stroke-width="1.3" d="M225.5 540.5V537.3a2 2 0 0 1 2-2H238.7a2 2 0 0 1 2 2V546.3a2 2 0 0 1-2 2H233.2M225.5 539.5H240.7M229.5 533.9V536.5M236.8 533.9V536.5M224.2 545.1H231.3M228.4 542.2L231.4 545.1L228.4 548"/>
<circle cx="817.5" cy="509.3" r="4.8" stroke-width="1.3"/>
<path stroke-width="1.3" d="M823.70 509.30L825.10 509.30M821.88 513.68L822.87 514.67M817.50 515.50L817.50 516.90M813.12 513.68L812.13 514.67M811.30 509.30L809.90 509.30M813.12 504.92L812.13 503.93M817.50 503.10L817.50 501.70M821.88 504.92L822.87 503.93"/>
</svg>
<!-- toolbar text -->
<div class="abs t14" style="left:30px;font-weight:bold;font-size:13.4px;color:#333">CJ309</div>
<div class="abs t14" style="left:130px;">1h</div>
<div class="abs t14" style="left:231px;">对比</div>
<div class="abs t14" style="left:305px;">指标</div>
<div class="abs t14" style="left:379.5px;font-size:13.7px">Templates</div>
<div class="abs t14" style="left:670px;">保存</div>
<!-- legend -->
<div class="abs sym" style="left:27px;font-size:15.6px">红枣9月</div><div class="abs sym" style="left:86.5px;color:#999">·</div><div class="abs sym sx" style="left:96.5px;">1h</div><div class="abs sym" style="left:116px;color:#999">·</div><div class="abs sym sx" style="left:125px;">CZCE</div>
<div class="abs lg l1" style="left:214px">开=</div><div class="abs lg l1 red" style="left:235px">11090</div><div class="abs lg l1" style="left:275.5px">高=</div><div class="abs lg l1 red" style="left:296px">11220</div><div class="abs lg l1" style="left:336.5px">低=</div><div class="abs lg l1 red" style="left:356.5px">11090</div><div class="abs lg l1" style="left:397.5px">收=</div><div class="abs lg l1 red" style="left:418px">11170</div><div class="abs lg l1 red" style="left:457px">+75</div><div class="abs lg l1 red" style="left:482px">(+0.68%)</div>
<div class="abs lg l2" style="left:54px;color:#333;font-size:13px">多空趋势</div><div class="abs lg l2" style="left:111px;color:#777">10 3</div><div class="abs lg l2" style="left:146.5px;color:#0a8a0a;font-size:12.4px">11240.5000</div><div class="abs lg l2" style="left:217.5px;color:#555;letter-spacing:1.4px">n/a n/a</div>
<div class="abs lg" style="left:54px;top:412px;color:#444;font-size:12.6px">Volume</div><div class="abs lg red" style="left:107.3px;top:412px;font-size:12.7px">26.879K</div>
<!-- price axis -->
<div class="abs" style="left:792px;top:100px;width:49px;height:394px;overflow:hidden"><div class="ax" style="top:-4px">11800</div><div class="ax" style="top:26px">11600</div><div class="ax" style="top:57px">11400</div><div class="ax" style="top:119px">11000</div><div class="ax" style="top:150px">10800</div><div class="ax" style="top:180px">10600</div><div class="ax" style="top:211px">10400</div><div class="ax" style="top:242px">10200</div><div class="ax" style="top:273px">10000</div><div class="ax" style="top:311px">100K</div><div class="ax" style="top:345px">50K</div><div class="ax" style="top:379px">0</div></div>
<div class="abs" style="left:791px;top:191px;width:50px;height:19px;line-height:21px;font-size:12px;font-weight:bold;color:#fff;text-align:center;">11170</div>
<!-- time axis -->
<div class="tm" style="left:38px;">13:00</div><div class="tm" style="left:122px;font-weight:bold;color:#333;">7月</div><div class="tm" style="left:218px;">13:00</div><div class="tm" style="left:302px;">10</div><div class="tm" style="left:398px;">13:00</div><div class="tm" style="left:482px;">17</div><div class="tm" style="left:578px;">13:00</div><div class="tm" style="left:662px;">24</div><div class="abs" style="left:782px;top:503px;width:9px;overflow:hidden;font-size:12px;line-height:14px;color:#555">26</div>
<!-- bottom bar -->
<div class="abs" style="left:18px;top:522px;width:823px;height:1px;background:#e0e3eb"></div>
<div class="bt" style="left:34px">3天</div>
<div class="bt" style="left:69px">7天</div>
<div class="bt" style="left:105px">30天</div>
<div class="bt" style="left:148px;letter-spacing:-0.5px">1000天</div>
<div class="abs" style="left:207px;top:531px;width:1px;height:22px;background:#e0e3eb"></div>
<div class="bt" style="left:600px;letter-spacing:-0.28px">17:22:04 (UTC+8)</div>
<div class="abs" style="left:724px;top:531px;width:1px;height:22px;background:#e0e3eb"></div>
<div class="bt" style="left:741px;font-size:15px">%</div>
<div class="bt" style="left:769px">log</div>
<div class="bt" style="left:802px;color:#2196f3">auto</div>
</body>
</html>
